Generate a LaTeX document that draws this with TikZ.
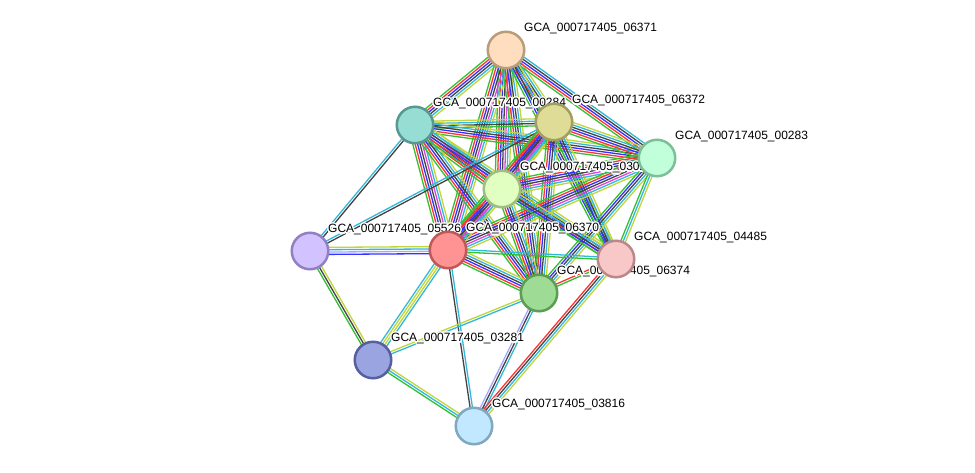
\documentclass[tikz,border=0pt]{standalone}
\usepackage{fontspec}
\setmainfont{Liberation Sans}
\usepackage[copies]{contour}
\contourlength{1.3pt}
\usetikzlibrary{calc}
\definecolor{eg}{HTML}{33C033}
\definecolor{er}{HTML}{FF3333}
\definecolor{eb}{HTML}{3333FF}
\definecolor{ek}{HTML}{444444}
\definecolor{em}{HTML}{DD44DD}
\definecolor{ec}{HTML}{33B8DD}
\definecolor{ey}{HTML}{C0D63A}
\definecolor{el}{HTML}{A8A8FF}
\pgfdeclarelayer{edges}\pgfdeclarelayer{labels}
\pgfsetlayers{edges,labels,main}
\tikzset{
  pnode/.style={circle, minimum size=36.5pt, inner sep=0pt, line width=2.5pt},
  edgeline/.style={line width=1.3pt},
  lbl/.style={font=\fontsize{12}{14}\selectfont, inner sep=0pt, anchor=west}
}
\newcommand\sedge[3]{%
  \foreach \cc [count=\ii] in {#3}{\xdef\edgen{\ii}}%
  \foreach \cc [count=\ii] in {#3}{%
    \pgfmathsetmacro\oo{(\ii-(\edgen+1)/2)*2.35}%
    \draw[edgeline, draw=\cc] ($(#1.center)!\oo pt!90:(#2.center)$) -- ($(#2.center)!\oo pt!-90:(#1.center)$);}%
}
\newcommand\glabel[2]{%
  \node[lbl] (#1l) at ([xshift=18pt, yshift=20.5pt]#1.center) {\contour{white}{#2}};}
\begin{document}
\begin{tikzpicture}[x=1pt, y=-1pt]
\useasboundingbox (0,0) rectangle (975,472);
% nodes
\node[pnode, fill={rgb,255:red,255;green,222;blue,192}, draw={rgb,255:red,186;green,156;blue,122}] (A) at (506,50) {};
\node[pnode, fill={rgb,255:red,150;green,221;blue,212}, draw={rgb,255:red,88;green,152;blue,146}] (B) at (415,125) {};
\node[pnode, fill={rgb,255:red,222;green,220;blue,150}, draw={rgb,255:red,160;green,158;blue,96}] (C) at (554,122) {};
\node[pnode, fill={rgb,255:red,192;green,255;blue,218}, draw={rgb,255:red,126;green,190;blue,152}] (D) at (657,158) {};
\node[pnode, fill={rgb,255:red,224;green,255;blue,192}, draw={rgb,255:red,160;green,190;blue,128}] (E) at (502,189) {};
\node[pnode, fill={rgb,255:red,210;green,194;blue,255}, draw={rgb,255:red,146;green,128;blue,194}] (F) at (310,251) {};
\node[pnode, fill={rgb,255:red,255;green,146;blue,146}, draw={rgb,255:red,192;green,88;blue,88}] (G) at (448,250) {};
\node[pnode, fill={rgb,255:red,248;green,200;blue,200}, draw={rgb,255:red,186;green,136;blue,136}] (H) at (616,259) {};
\node[pnode, fill={rgb,255:red,158;green,220;blue,150}, draw={rgb,255:red,92;green,156;blue,84}] (I) at (539,293) {};
\node[pnode, fill={rgb,255:red,154;green,164;blue,224}, draw={rgb,255:red,86;green,96;blue,160}] (J) at (373,360) {};
\node[pnode, fill={rgb,255:red,194;green,232;blue,255}, draw={rgb,255:red,128;green,168;blue,192}] (K) at (474,426) {};
\begin{pgfonlayer}{edges}
\fill[white] (0,0) rectangle (975,472);
\sedge{A}{B}{eg,er,eb,ek,ec,ey}
\sedge{A}{C}{eg,er,eb,ek,ec,ey}
\sedge{A}{D}{eg,er,eb,ek,ec}
\sedge{A}{E}{eg,er,eb,ek,em,ec,ey}
\sedge{A}{G}{eg,er,eb,ek,em,ec,ey}
\sedge{A}{I}{eg,er,eb,ek,ec,ey}
\sedge{A}{H}{eg,eb,ek,ec,ey}
\sedge{B}{C}{eg,ek,ec,ey}
\sedge{B}{D}{eg,er,eb,ek,ec,ey}
\sedge{B}{E}{eg,er,eb,ek,em,ec,ey}
\sedge{B}{G}{eg,er,eb,ek,em,ec,ey}
\sedge{B}{I}{eg,er,eb,ek,ec,ey}
\sedge{B}{H}{eg,er,eb,ek,ec,ey}
\sedge{F}{B}{ek,ec}
\sedge{F}{C}{ek,ec}
\sedge{C}{D}{eg,er,eb,ek,ec,ey}
\sedge{C}{E}{eg,er,eb,ek,em,ec,ey}
\sedge{C}{G}{eg,er,eb,ek,em,ec,ey}
\sedge{C}{I}{eg,er,eb,ek,ec,ey}
\sedge{C}{H}{eg,eb,ek,ec,ey}
\sedge{D}{E}{eg,er,eb,ek,em,ec,ey}
\sedge{D}{G}{eg,er,eb,ek,em,ec,ey}
\sedge{D}{I}{eg,eb,ek,ec,ey}
\sedge{D}{H}{eg,ec,ey}
\sedge{E}{G}{eg,er,eb,ek,em,ec,ey}
\sedge{E}{I}{eg,er,eb,ek,ec,ey}
\sedge{E}{H}{eg,eb,ek,ec,ey}
\sedge{G}{I}{eg,er,eb,ek,ec,ey}
\sedge{G}{H}{eg,ec}
\sedge{I}{H}{eg,er}
\sedge{F}{G}{eb,el,ec,ey}
\sedge{F}{J}{eg,ek,ey}
\sedge{J}{G}{ec,ey,ey,ec}
\sedge{G}{K}{ek,ec}
\sedge{J}{I}{ec,ey}
\sedge{J}{K}{eg,ec,ey}
\sedge{I}{K}{el,ek,ec}
\sedge{H}{K}{er,ek,ec,ey}
\end{pgfonlayer}
\begin{pgfonlayer}{labels}
\glabel{A}{GCA\_000717405\_06371}
\glabel{B}{GCA\_000717405\_00284}
\glabel{C}{GCA\_000717405\_06372}
\glabel{D}{GCA\_000717405\_00283}
\glabel{E}{GCA\_000717405\_03020}
\glabel{F}{GCA\_000717405\_05526}
\glabel{G}{GCA\_000717405\_06370}
\glabel{H}{GCA\_000717405\_04485}
\glabel{I}{GCA\_000717405\_06374}
\glabel{J}{GCA\_000717405\_03281}
\glabel{K}{GCA\_000717405\_03816}
\end{pgfonlayer}
\end{tikzpicture}
\end{document}
